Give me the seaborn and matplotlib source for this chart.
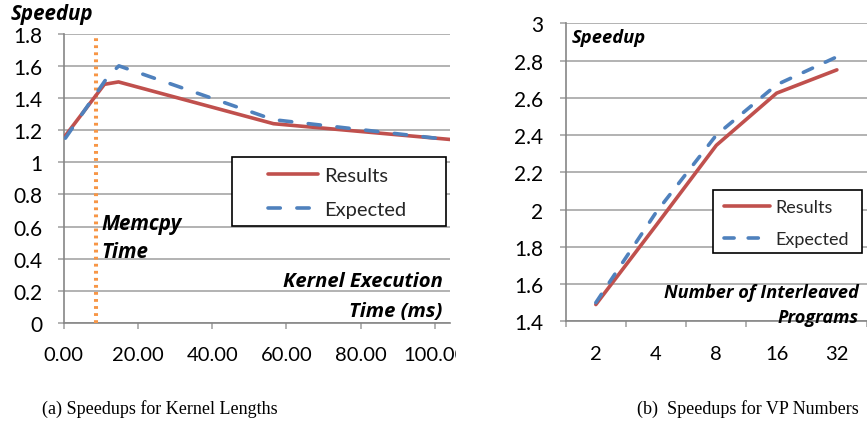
import matplotlib
matplotlib.use("Agg")
import matplotlib.pyplot as plt
import pandas as pd
import seaborn as sns
from matplotlib.patches import Rectangle
from matplotlib.transforms import Bbox, TransformedBbox

# (a) speedup versus kernel execution time (ms)
kernel_ms_results = [0.5, 11.0, 14.8, 56.5, 104.0]
speedup_results_a = [1.165, 1.485, 1.50, 1.24, 1.142]
kernel_ms_expected = [0.5, 12.0, 14.9, 56.5, 104.0]
speedup_expected_a = [1.15, 1.535, 1.60, 1.265, 1.14]
memcpy_time_ms = 8.7
kernel_ticks = [0, 20, 40, 60, 80, 100]
kernel_tick_labels = ["0.00", "20.00", "40.00", "60.00", "80.00", "100.00"]

# (b) speedup versus number of interleaved programs
vp_numbers = ["2", "4", "8", "16", "32"]
speedup_results_b = [1.49, 1.915, 2.345, 2.625, 2.75]
speedup_expected_b = [1.50, 1.985, 2.40, 2.67, 2.82]

RED = "#C0504D"
BLUE = "#4F81BD"
ORANGE = "#F79646"
GRID = "#A6A6A6"
SPINE = "#868686"
W, H = 867, 431

sns.set_theme(style="white")
plt.rcParams["font.family"] = ["Lato", "DejaVu Sans"]

fig = plt.figure(figsize=(W / 100, H / 100), dpi=100)


def fbox(x0, y0, x1, y1):
    """Axes rectangle from pixel corners (top-left origin)."""
    return [x0 / W, 1 - y1 / H, (x1 - x0) / W, (y1 - y0) / H]


def fx(x):
    return x / W


def fy(y):
    return 1 - y / H


palette = {"Results": RED, "Expected": BLUE}
order = ["Results", "Expected"]
LW = 2.6

# ---------------- (a) ----------------
ax1 = fig.add_axes(fbox(63.5, 34.7, 450, 324))
df_a = pd.DataFrame({
    "time": kernel_ms_results + kernel_ms_expected,
    "speedup": speedup_results_a + speedup_expected_a,
    "series": ["Results"] * len(kernel_ms_results) + ["Expected"] * len(kernel_ms_expected),
})
sns.lineplot(data=df_a, x="time", y="speedup", hue="series", style="series",
             hue_order=order, style_order=order, palette=palette,
             dashes={"Results": "", "Expected": (3.4, 4.6)},
             linewidth=LW, dash_capstyle="round", legend=False, ax=ax1, zorder=3)
ax1.axvline(memcpy_time_ms, ymin=0, ymax=1.0, color=ORANGE, linestyle=(0, (0.7, 1.05)),
            linewidth=2.9, zorder=2)
ax1.set_xlim(0, 104)
ax1.set_ylim(0, 1.8)
ax1.set_yticks([i * 0.2 for i in range(10)])
ax1.set_yticklabels(["0", "0.2", "0.4", "0.6", "0.8", "1", "1.2", "1.4", "1.6", "1.8"])
ax1.set_xticks(kernel_ticks)
ax1.set_xticklabels(kernel_tick_labels)
ax1.set_xlabel("")
ax1.set_ylabel("")

# ---------------- (b) ----------------
ax2 = fig.add_axes(fbox(565.7, 24.3, 867, 322.3))
pos = list(range(len(vp_numbers)))
df_b = pd.DataFrame({
    "pos": pos + pos,
    "speedup": speedup_results_b + speedup_expected_b,
    "series": ["Results"] * len(pos) + ["Expected"] * len(pos),
})
sns.lineplot(data=df_b, x="pos", y="speedup", hue="series", style="series",
             hue_order=order, style_order=order, palette=palette,
             dashes={"Results": "", "Expected": (2.8, 3.9)},
             linewidth=LW, dash_capstyle="round", legend=False, ax=ax2, zorder=3)
ax2.set_xlim(-0.5, -0.5 + (867 - 565.7) / 61.3)
ax2.set_ylim(1.4, 3.0)
ax2.set_yticks([1.4, 1.6, 1.8, 2.0, 2.2, 2.4, 2.6, 2.8, 3.0])
ax2.set_yticklabels(["1.4", "1.6", "1.8", "2", "2.2", "2.4", "2.6", "2.8", "3"])
ax2.set_xticks(pos)
ax2.set_xticklabels(vp_numbers)
ax2.set_xticks([p - 0.5 for p in pos] + [len(pos) - 0.5], minor=True)
ax2.set_xlabel("")
ax2.set_ylabel("")

for ax, ypad in ((ax1, 10.5), (ax2, 11.5)):
    ax.grid(axis="y", color=GRID, linewidth=1.2, zorder=0)
    ax.grid(axis="x", visible=False)
    for s in ("top", "right"):
        ax.spines[s].set_visible(False)
    for s in ("left", "bottom"):
        ax.spines[s].set_color(SPINE)
        ax.spines[s].set_linewidth(1.2)
        ax.spines[s].set_zorder(1)
    ax.tick_params(axis="y", which="major", direction="out", length=4.5, width=1.2,
                   color=GRID, labelsize=15, pad=ypad, left=True, labelcolor="black")
    ax.set_facecolor("white")

ax1.tick_params(axis="x", which="major", direction="out", length=4.5, width=1.2,
                color=GRID, labelsize=14.5, pad=12, bottom=True, labelcolor="black")
ax2.tick_params(axis="x", which="major", length=0, labelsize=14.5, pad=17,
                labelcolor="black")
ax2.tick_params(axis="x", which="minor", direction="out", length=4.5, width=1.2,
                color=GRID, bottom=True)

# the left panel is cropped just right of its last tick label
clip = TransformedBbox(Bbox([[0, 0], [456 / W, 1]]), fig.transFigure)
for lbl in ax1.get_xticklabels():
    lbl.set_clip_box(clip)
    lbl.set_clip_on(True)

# ---------------- annotations ----------------
bi = dict(family=["Open Sans", "DejaVu Sans"], fontweight="bold", fontstyle="italic",
          color="black", va="baseline")
fig.text(fx(11), fy(20), "Speedup", fontsize=14.8, ha="left", **bi)
fig.text(fx(101.5), fy(230), "Memcpy", fontsize=14.8, ha="left", **bi)
fig.text(fx(101.5), fy(257.7), "Time", fontsize=14.8, ha="left", **bi)
fig.text(fx(442.5), fy(287.3), "Kernel Execution", fontsize=14.6, ha="right", **bi)
fig.text(fx(442.5), fy(316.7), "Time (ms)", fontsize=14.6, ha="right", **bi)
fig.text(fx(571.5), fy(43.3), "Speedup", fontsize=13.2, ha="left", **bi)
fig.text(fx(858.5), fy(298.3), "Number of Interleaved", fontsize=13.1, ha="right", **bi)
fig.text(fx(858.5), fy(323.3), "Programs", fontsize=13.1, ha="right", **bi)

# ---------------- legends ----------------
for ax, (x0, y0, x1, y1) in ((ax1, (232, 157.7, 446, 226.7)),
                             (ax2, (713, 191, 862, 254))):
    ax.add_patch(Rectangle((fx(x0), fy(y1)), fx(x1) - fx(x0), fy(y0) - fy(y1),
                           transform=fig.transFigure, facecolor="white",
                           edgecolor="black", linewidth=1.2, zorder=5, clip_on=False))

leg1 = ax1.legend(handles=ax1.lines[:2], labels=order, loc="upper left",
                  bbox_to_anchor=(fx(268), fy(167.5)), bbox_transform=fig.transFigure,
                  frameon=False, fontsize=14.5, borderpad=0, borderaxespad=0,
                  handlelength=2.5, handletextpad=0.3, labelspacing=0.85)
leg1.set_zorder(6)
leg2 = ax2.legend(handles=ax2.lines[:2], labels=order, loc="upper left",
                  bbox_to_anchor=(fx(724), fy(200.5)), bbox_transform=fig.transFigure,
                  frameon=False, fontsize=13, borderpad=0, borderaxespad=0,
                  handlelength=2.55, handletextpad=0.3, labelspacing=0.85)
leg2.set_zorder(6)

# ---------------- captions ----------------
cap = dict(family=["Liberation Serif", "DejaVu Serif"], fontsize=13, color="black",
           ha="center", va="center")
fig.text(fx(160), fy(409), "(a) Speedups for Kernel Lengths", **cap)
fig.text(fx(748), fy(409), "(b)  Speedups for VP Numbers", **cap)

fig.savefig("out.png", dpi=100, facecolor="white")
